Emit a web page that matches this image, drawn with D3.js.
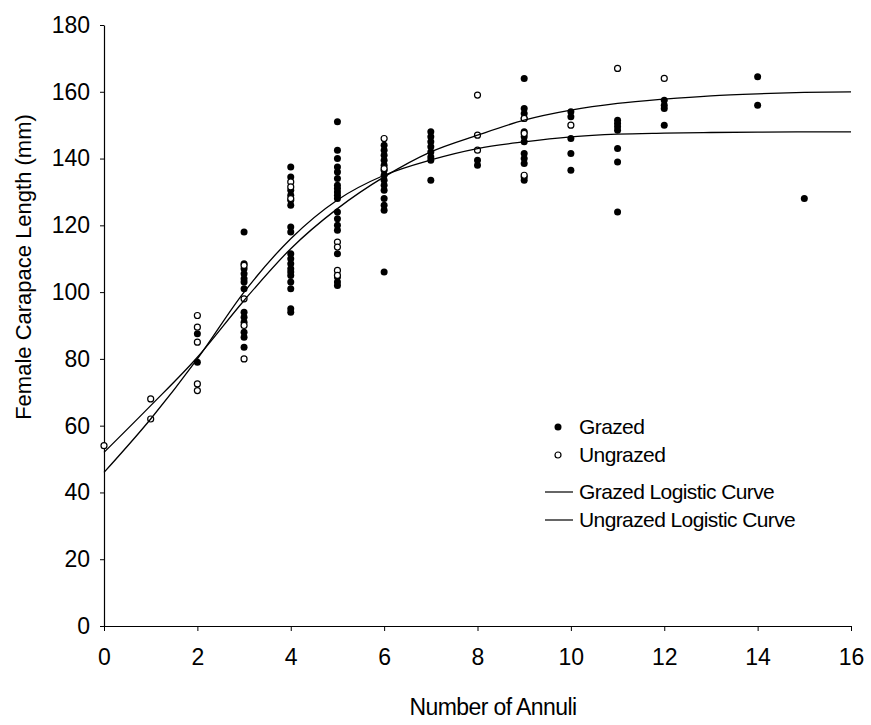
<!DOCTYPE html>
<html>
<head>
<meta charset="utf-8">
<script src="https://cdn.jsdelivr.net/npm/d3@7"></script>
<style>
  html, body { margin: 0; padding: 0; background: #fff; }
  svg { display: block; font-family: "Liberation Sans", Arial, sans-serif; }
</style>
</head>
<body>
<svg id="chart" width="871" height="725"></svg>
<script>
// Carapace length (mm) by number of annuli, grazed vs ungrazed sites
const grazedAnnuli = [
  2, 2,
  3, 3, 3, 3, 3, 3, 3, 3, 3, 3, 3, 3, 3,
  4, 4, 4, 4, 4, 4, 4, 4, 4, 4, 4, 4, 4, 4, 4, 4, 4, 4,
  5, 5, 5, 5, 5, 5, 5, 5, 5, 5, 5, 5, 5, 5, 5, 5, 5, 5, 5,
  6, 6, 6, 6, 6, 6, 6, 6, 6, 6, 6, 6, 6, 6,
  7, 7, 7, 7, 7, 7, 7, 7,
  8, 8,
  9, 9, 9, 9, 9, 9, 9, 9, 9, 9, 9, 9,
  10, 10, 10, 10, 10,
  11, 11, 11, 11, 11, 11, 11,
  12, 12, 12, 12,
  14, 14,
  15
];
const grazedLength = [
  87.5, 79,
  118, 108.5, 107, 105.5, 104, 103, 101, 94, 92.5, 91, 88, 86.5, 83.5,
  137.5, 134.5, 130.5, 129, 127.5, 126, 119.5, 118, 111.5, 110, 108.5, 107, 106, 105, 103, 101, 95, 94,
  151, 142.5, 140, 137.5, 136, 134, 132, 131, 130, 129, 128, 124, 122, 120, 118.5, 111.5, 104.5, 103, 102,
  144, 142.5, 141, 139.5, 138, 136.5, 135, 133.5, 132, 130.5, 128, 126, 124.5, 106,
  148, 146.5, 145, 143.5, 142, 140.5, 139.5, 133.5,
  139.5, 138,
  164, 155, 153.5, 152, 148, 146.5, 145, 141.5, 140, 138.5, 134.5, 133.5,
  154, 152.5, 146, 141.5, 136.5,
  151.5, 150.5, 149.5, 148.5, 143, 139, 124,
  157.5, 156, 155, 150,
  164.5, 156,
  128
];
const ungrazedAnnuli = [
  0,
  1, 1,
  2, 2, 2, 2, 2,
  3, 3, 3, 3,
  4, 4, 4,
  5, 5, 5, 5,
  6, 6,
  8, 8, 8,
  9, 9, 9,
  10,
  11,
  12
];
const ungrazedLength = [
  54,
  68, 62,
  93, 89.5, 85, 72.5, 70.5,
  108, 98, 90, 80,
  133, 131.5, 128,
  115, 113.5, 106.5, 105,
  146, 137,
  159, 147, 142.5,
  152, 147.5, 135,
  150,
  167,
  164
];

// Fitted logistic curves, read at each whole annulus
const curveAnnuli = [0, 1, 2, 3, 4, 5, 6, 7, 8, 9, 10, 11, 12, 13, 14, 15, 16];
const grazedCurve = [46, 62, 80, 100, 116, 127.6, 135, 139.6, 143, 145, 146.5, 147.3, 147.6, 147.8, 147.9, 148, 148];
const ungrazedCurve = [52, 66, 80.5, 97.5, 113, 125, 134.5, 142, 147, 151.5, 154.5, 156.5, 157.8, 158.8, 159.4, 159.8, 160];

const xTicks = [0, 2, 4, 6, 8, 10, 12, 14, 16];
const yTicks = [0, 20, 40, 60, 80, 100, 120, 140, 160, 180];

const legendLabels = ["Grazed", "Ungrazed", "Grazed Logistic Curve", "Ungrazed Logistic Curve"];

const svg = d3.select("#chart");

const x = d3.scaleLinear().domain([0, 16]).range([104, 851]);
const y = d3.scaleLinear().domain([0, 180]).range([626, 25]);

// Axes
const xAxis = svg.append("g")
  .attr("transform", `translate(0,${y(0)})`)
  .call(d3.axisBottom(x).tickValues(xTicks).tickSize(5).tickSizeOuter(0).tickPadding(18).tickFormat(d3.format("d")));
const yAxis = svg.append("g")
  .attr("transform", `translate(${x(0)},0)`)
  .call(d3.axisLeft(y).tickValues(yTicks).tickSize(4).tickSizeOuter(0).tickPadding(10).tickFormat(d3.format("d")));

[xAxis, yAxis].forEach(g => {
  g.select(".domain").attr("stroke", "#000").attr("stroke-width", 1.2);
  g.selectAll(".tick line").attr("stroke", "#000").attr("stroke-width", 1);
  g.selectAll(".tick text")
    .attr("fill", "#000")
    .style("font-size", "23px")
    .style("font-family", "'Liberation Sans', Arial, sans-serif");
});

// Axis titles
svg.append("text")
  .attr("x", 493)
  .attr("y", 715)
  .attr("text-anchor", "middle")
  .style("font-size", "23px")
  .style("letter-spacing", "-0.6px")
  .attr("fill", "#000")
  .text("Number of Annuli");

svg.append("text")
  .attr("transform", "translate(31,267) rotate(-90)")
  .attr("text-anchor", "middle")
  .style("font-size", "22px")
  .attr("fill", "#000")
  .text("Female Carapace Length (mm)");

// Points
const grazedPts = grazedAnnuli.map((a, i) => [a, grazedLength[i]]);
const ungrazedPts = ungrazedAnnuli.map((a, i) => [a, ungrazedLength[i]]);

svg.append("g").selectAll("circle")
  .data(grazedPts).join("circle")
  .attr("cx", d => x(d[0]))
  .attr("cy", d => y(d[1]))
  .attr("r", 3.5)
  .attr("fill", "#000");

svg.append("g").selectAll("circle")
  .data(ungrazedPts).join("circle")
  .attr("cx", d => x(d[0]))
  .attr("cy", d => y(d[1]))
  .attr("r", 3)
  .attr("fill", "#fff")
  .attr("stroke", "#000")
  .attr("stroke-width", 1.2);

// Logistic curves
const line = d3.line()
  .x(d => x(d[0]))
  .y(d => y(d[1]))
  .curve(d3.curveMonotoneX);

svg.append("path")
  .datum(curveAnnuli.map((a, i) => [a, grazedCurve[i]]))
  .attr("d", line)
  .attr("fill", "none")
  .attr("stroke", "#000")
  .attr("stroke-width", 1.3);

svg.append("path")
  .datum(curveAnnuli.map((a, i) => [a, ungrazedCurve[i]]))
  .attr("d", line)
  .attr("fill", "none")
  .attr("stroke", "#000")
  .attr("stroke-width", 1.3);

// Legend
const legendY = [427, 455, 492, 520];
const legend = svg.append("g");
legendLabels.forEach((label, i) => {
  const row = legend.append("g").attr("transform", `translate(0,${legendY[i]})`);
  if (i === 0) {
    row.append("circle").attr("cx", 558).attr("cy", 0).attr("r", 3.5).attr("fill", "#000");
  } else if (i === 1) {
    row.append("circle").attr("cx", 558).attr("cy", 0).attr("r", 3)
      .attr("fill", "#fff").attr("stroke", "#000").attr("stroke-width", 1.2);
  } else {
    row.append("line").attr("x1", 545).attr("x2", 573).attr("y1", 0).attr("y2", 0)
      .attr("stroke", "#000").attr("stroke-width", 1.2);
  }
  row.append("text")
    .attr("x", 579)
    .attr("y", 0)
    .attr("dy", "0.35em")
    .style("font-size", "21px")
    .style("letter-spacing", "-0.6px")
    .attr("fill", "#000")
    .text(label);
});
</script>
</body>
</html>
